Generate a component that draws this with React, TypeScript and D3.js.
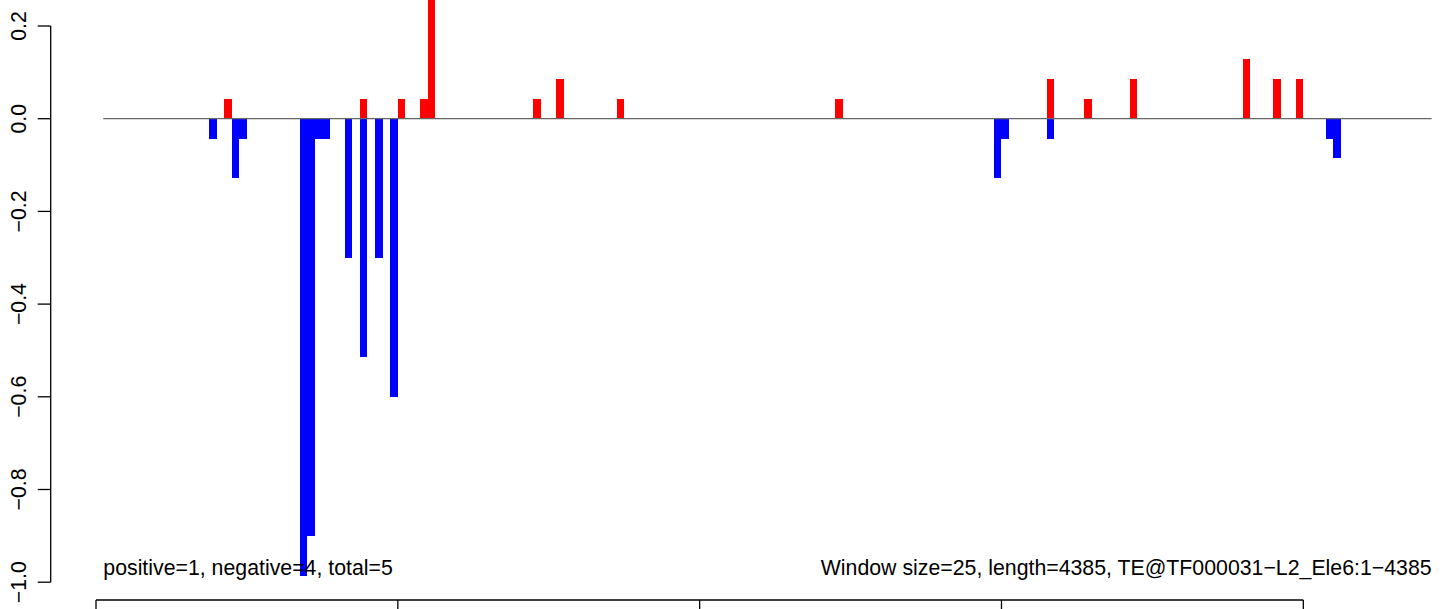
import React from "react";
import * as d3 from "d3";

// ---- data ----
const nBins = 176; // window size 25, length 4385
const posBins = [16, 34, 39, 42, 43, 57, 60, 68, 97, 125, 130, 136, 151, 155, 158];
const posVals = [0.0429, 0.0429, 0.0429, 0.0429, 0.3, 0.0429, 0.0857, 0.0429, 0.0429, 0.0857, 0.0429, 0.0857, 0.1286, 0.0857, 0.0857];
const negBins = [14, 17, 18, 26, 27, 28, 29, 32, 34, 36, 38, 118, 119, 125, 162, 163];
const negVals = [-0.0429, -0.1286, -0.0429, -0.9857, -0.9, -0.0429, -0.0429, -0.3, -0.5143, -0.3, -0.6, -0.1286, -0.0429, -0.0429, -0.0429, -0.0857];
const yTicks = [-1.0, -0.8, -0.6, -0.4, -0.2, 0.0, 0.2];
const xTicks = [0, 1000, 2000, 3000, 4000];
const leftNote = "positive=1, negative=4, total=5";
const rightNote = "Window size=25, length=4385, TE@TF000031\u2212L2_Ele6:1\u22124385";

const W = 1447;
const H = 609;
const FONT = "'Liberation Sans', Arial, Helvetica, sans-serif";
const FS = 21.3;

export default function App() {
  const x = d3.scaleLinear().domain([0, nBins]).range([103.3, 1431.6]);
  const xAxis = d3.scaleLinear().domain([0, 4000]).range([96, 1303.3]);
  const y = d3.scaleLinear().domain([-1, 0.2]).range([582.2, 26.0]);
  const axisX = 50.7;
  const tickLen = 13;
  const xAxisY = 600;
  const fmt = (v: number) => d3.format(".1f")(v).replace("-", "\u2212");

  const pos = posBins.map((b, i) => ({ b, v: posVals[i] }));
  const neg = negBins.map((b, i) => ({ b, v: negVals[i] }));

  return (
    <svg
      width={W}
      height={H}
      style={{ position: "absolute", left: 0, top: 0, background: "#fff" }}
      fontFamily={FONT}
    >
      <rect x={0} y={0} width={W} height={H} fill="#fff" />
      {/* bars */}
      {pos.map((d, i) => (
        <rect
          key={"p" + i}
          x={x(d.b)}
          width={x(d.b + 1) - x(d.b)}
          y={y(d.v)}
          height={y(0) - y(d.v)}
          fill="#ff0000"
          shapeRendering="crispEdges"
        />
      ))}
      {neg.map((d, i) => (
        <rect
          key={"n" + i}
          x={x(d.b)}
          width={x(d.b + 1) - x(d.b)}
          y={y(0)}
          height={y(d.v) - y(0)}
          fill="#0000ff"
          shapeRendering="crispEdges"
        />
      ))}
      {/* zero line */}
      <line x1={x(0)} x2={x(nBins)} y1={y(0)} y2={y(0)} stroke="#666" strokeWidth={1.2} />

      {/* y axis */}
      <line x1={axisX} x2={axisX} y1={y(0.2)} y2={y(-1)} stroke="#000" strokeWidth={1.3} />
      {yTicks.map((t) => (
        <g key={t}>
          <line x1={axisX - tickLen} x2={axisX} y1={y(t)} y2={y(t)} stroke="#000" strokeWidth={1.3} />
          <text
            transform={`translate(25.5,${y(t)}) rotate(-90)`}
            textAnchor="middle"
            fontSize={FS}
            fill="#000"
          >
            {fmt(t)}
          </text>
        </g>
      ))}

      {/* x axis */}
      <line x1={xAxis(0)} x2={xAxis(4000)} y1={xAxisY} y2={xAxisY} stroke="#000" strokeWidth={1.3} />
      {xTicks.map((t) => (
        <line key={t} x1={xAxis(t)} x2={xAxis(t)} y1={xAxisY} y2={xAxisY + tickLen} stroke="#000" strokeWidth={1.3} />
      ))}

      {/* notes */}
      <text x={x(0)} y={575} fontSize={FS} fill="#000">
        {leftNote}
      </text>
      <text x={x(nBins)} y={575} fontSize={FS} fill="#000" textAnchor="end">
        {rightNote}
      </text>
    </svg>
  );
}
